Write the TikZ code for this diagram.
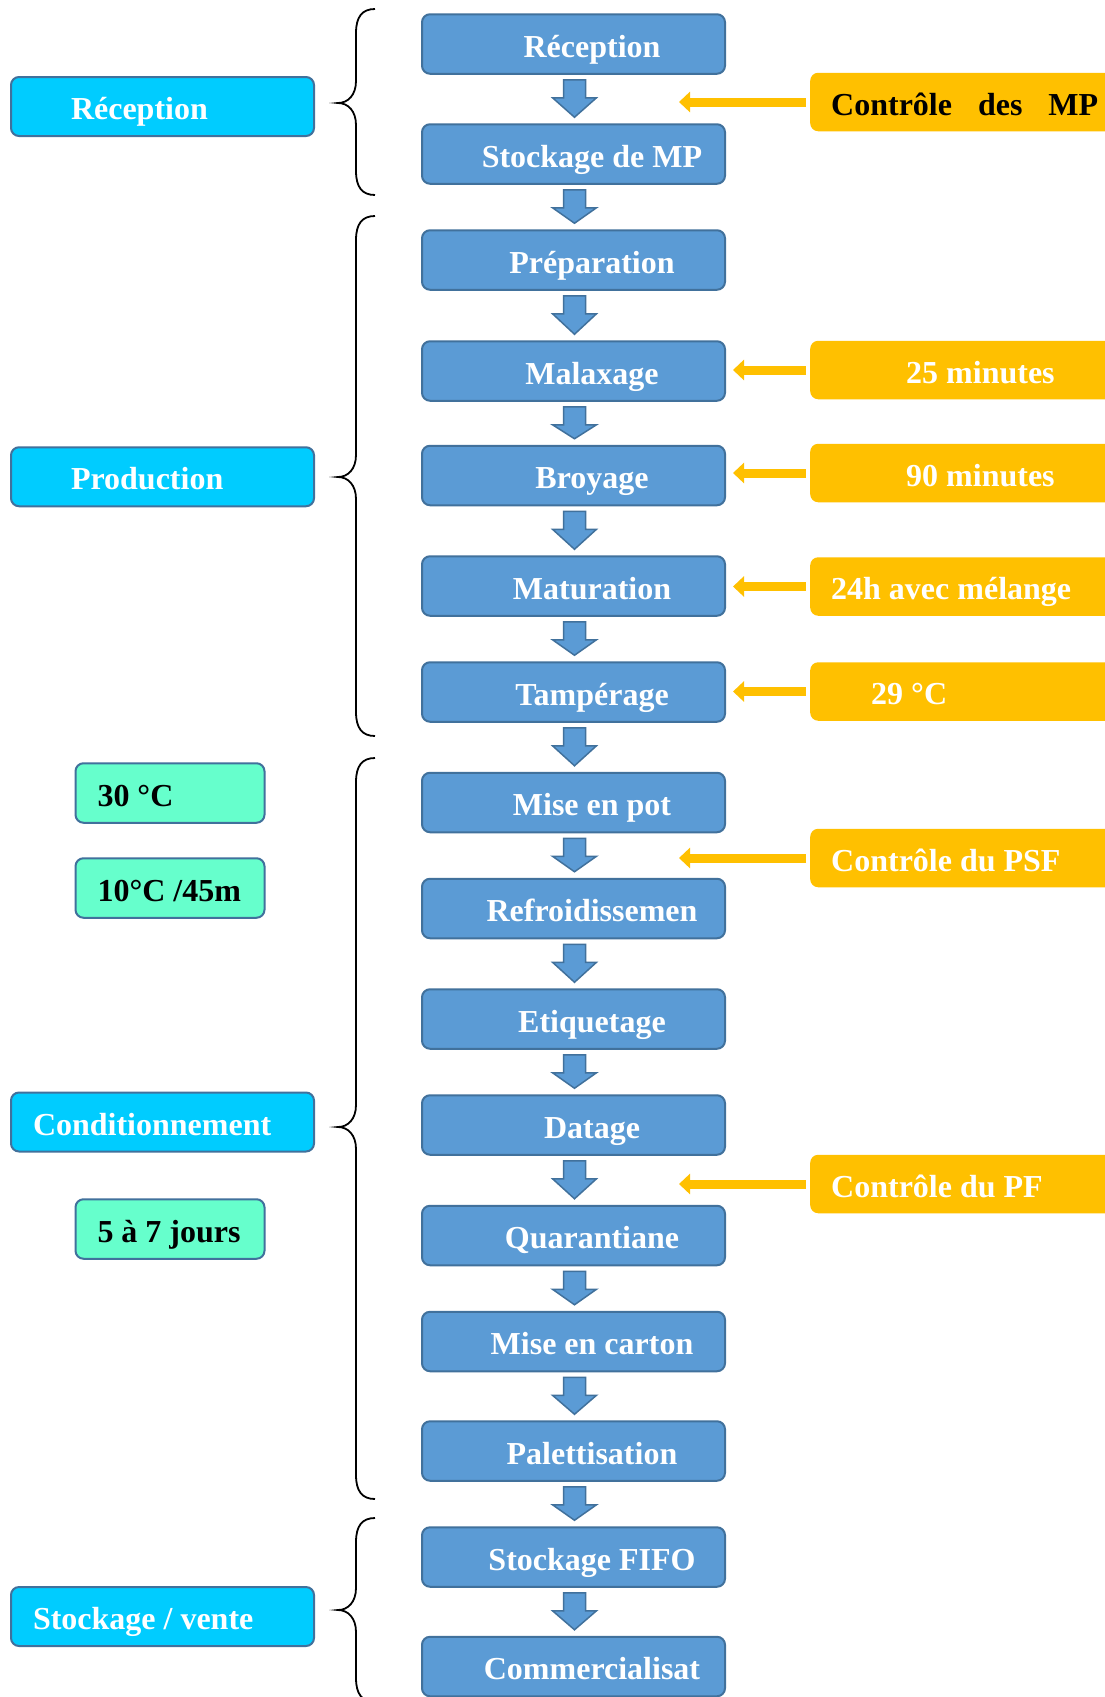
\documentclass[tikz,border=0pt]{standalone}
\usepackage{fontspec}
\setmainfont{Liberation Serif}
\usetikzlibrary{calc,arrows.meta}
\definecolor{boxblue}{HTML}{5B9BD5}
\definecolor{boxedge}{HTML}{41719C}
\definecolor{cyanfill}{HTML}{00CCFF}
\definecolor{greenfill}{HTML}{66FFCC}
\definecolor{orangefill}{HTML}{FFC000}
\tikzset{
  basebox/.style={rounded corners=8pt, inner sep=0pt, text height=26pt, text depth=0pt,
    font=\fontsize{32}{37}\selectfont\bfseries},
  stepbox/.style={basebox, fill=boxblue, draw=boxedge, line width=2pt,
    minimum width=303pt, minimum height=59.5pt, text=white},
  phasebox/.style={basebox, fill=cyanfill, draw=boxedge, line width=2pt,
    minimum width=303pt, minimum height=59pt, text=white},
  parambox/.style={basebox, fill=greenfill, draw=boxedge, line width=2pt,
    minimum width=189pt, minimum height=59.5pt, text=black},
  ctrlbox/.style={basebox, fill=orangefill, draw=none,
    minimum width=320pt, minimum height=58.5pt, anchor=west, text=white},
  flowarrow/.style={fill=boxblue, draw=boxedge, line width=1.5pt, line join=miter},
  ctrlarrow/.style={draw=orangefill, line width=9pt, -{Triangle[length=11pt,width=20pt]}},
  bracestyle/.style={draw=black, line width=1.8pt},
}
\newcommand\steptext[1]{\makebox[303pt]{\hspace*{37pt}#1}}
\newcommand\padtext[3]{\makebox[#1pt][l]{\hspace*{#2pt}#3}}
\newcommand\blockarrow[2]{%
  \filldraw[flowarrow] let \p1=(#1.south), \p2=(#2.north) in
    (\x1-10,\y1-5) -- (\x1+12,\y1-5) -- (\x1+12,\y1-23) -- (\x1+23,\y1-23)
    -- (\x1+1,\y2+6) -- (\x1-21,\y1-23) -- (\x1-10,\y1-23) -- cycle;}
\newcommand\curlybrace[3]{%
  \draw[bracestyle] (375,#1) .. controls (362,#1) and (356,#1+8) .. (356,#1+24)
    -- (356,#2-22) .. controls (356,#2-8) and (348,#2) .. (338,#2)
    .. controls (348,#2) and (356,#2+8) .. (356,#2+22)
    -- (356,#3-24) .. controls (356,#3-8) and (362,#3) .. (375,#3);}
\begin{document}
\begin{tikzpicture}[x=1pt,y=-1pt]
\useasboundingbox (0,0) rectangle (1105,1697);
\fill[white] (0,0) rectangle (1105,1697);
\clip (0,0) rectangle (1105,1697);

% main flow
\node[stepbox] (b1)  at (573.5,44)     {\steptext{Réception}};
\node[stepbox] (b2)  at (573.5,154)    {\steptext{Stockage de MP}};
\node[stepbox] (b3)  at (573.5,260)    {\steptext{Préparation}};
\node[stepbox] (b4)  at (573.5,371)    {\steptext{Malaxage}};
\node[stepbox] (b5)  at (573.5,475.5)  {\steptext{Broyage}};
\node[stepbox] (b6)  at (573.5,586)    {\steptext{Maturation}};
\node[stepbox] (b7)  at (573.5,692)    {\steptext{Tampérage}};
\node[stepbox] (b8)  at (573.5,802.5)  {\steptext{Mise en pot}};
\node[stepbox] (b9)  at (573.5,908.5)  {\steptext{Refroidissemen}};
\node[stepbox] (b10) at (573.5,1019)   {\steptext{Etiquetage}};
\node[stepbox] (b11) at (573.5,1125)   {\steptext{Datage}};
\node[stepbox] (b12) at (573.5,1235.5) {\steptext{Quarantiane}};
\node[stepbox] (b13) at (573.5,1341.5) {\steptext{Mise en carton}};
\node[stepbox] (b14) at (573.5,1451)   {\steptext{Palettisation}};
\node[stepbox] (b15) at (573.5,1557)   {\steptext{Stockage FIFO}};
\node[stepbox] (b16) at (573.5,1666.5) {\steptext{Commercialisat}};

\blockarrow{b1}{b2}
\blockarrow{b2}{b3}
\blockarrow{b3}{b4}
\blockarrow{b4}{b5}
\blockarrow{b5}{b6}
\blockarrow{b6}{b7}
\blockarrow{b7}{b8}
\blockarrow{b8}{b9}
\blockarrow{b9}{b10}
\blockarrow{b10}{b11}
\blockarrow{b11}{b12}
\blockarrow{b12}{b13}
\blockarrow{b13}{b14}
\blockarrow{b14}{b15}
\blockarrow{b15}{b16}

% phases
\node[phasebox] (p1) at (162.5,106.5)  {\padtext{303}{60}{Réception}};
\node[phasebox] (p2) at (162.5,476.75) {\padtext{303}{60}{Production}};
\node[phasebox] (p3) at (162.5,1122)   {\padtext{303}{22}{Conditionnement}};
\node[phasebox] (p4) at (162.5,1616.5) {\padtext{303}{22}{Stockage / vente}};

% parameters
\node[parambox] (g1) at (170,793)  {\padtext{189}{22}{30 °C}};
\node[parambox] (g2) at (170,888)  {\padtext{189}{22}{10°C /45m}};
\node[parambox] (g3) at (170,1229) {\padtext{189}{22}{5 à 7 jours}};

% braces
\curlybrace{9}{103}{195}
\curlybrace{216}{477}{736}
\curlybrace{758}{1127}{1499}
\curlybrace{1518}{1610}{1702}

% controls
\node[ctrlbox] (o1) at (810,102)   {\padtext{320}{21}{\color{black}Contrôle\hspace{26pt}des\hspace{26pt}MP}};
\node[ctrlbox] (o2) at (810,370)   {\padtext{320}{96}{25 minutes}};
\node[ctrlbox] (o3) at (810,473)   {\padtext{320}{96}{90 minutes}};
\node[ctrlbox] (o4) at (810,586.5) {\padtext{320}{21}{24h avec mélange}};
\node[ctrlbox] (o5) at (810,691.5) {\padtext{320}{61}{29 °C}};
\node[ctrlbox] (o6) at (810,858)   {\padtext{320}{21}{Contrôle du PSF}};
\node[ctrlbox] (o7) at (810,1184)  {\padtext{320}{21}{Contrôle du PF}};

\coordinate (cMP)  at (679,102);
\coordinate (cPSF) at (679,858);
\coordinate (cPF)  at (679,1184);

\draw[ctrlarrow] ([xshift=-4pt]o1.west) -- (cMP);
\draw[ctrlarrow] ([xshift=-4pt]o2.west) -- ($(b4.east |- o2.west)+(7,0)$);
\draw[ctrlarrow] ([xshift=-4pt]o3.west) -- ($(b5.east |- o3.west)+(7,0)$);
\draw[ctrlarrow] ([xshift=-4pt]o4.west) -- ($(b6.east |- o4.west)+(7,0)$);
\draw[ctrlarrow] ([xshift=-4pt]o5.west) -- ($(b7.east |- o5.west)+(7,0)$);
\draw[ctrlarrow] ([xshift=-4pt]o6.west) -- (cPSF);
\draw[ctrlarrow] ([xshift=-4pt]o7.west) -- (cPF);
\end{tikzpicture}
\end{document}
